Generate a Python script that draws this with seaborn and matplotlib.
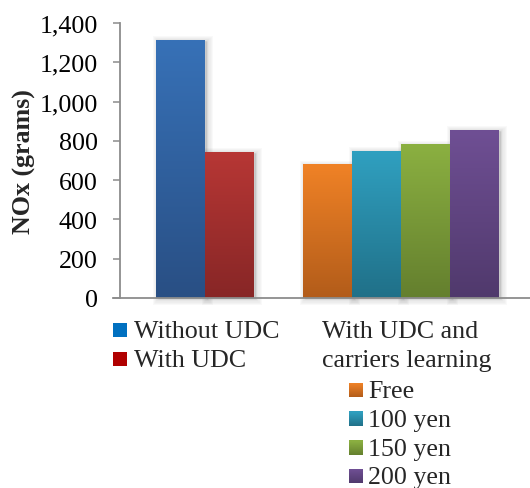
import numpy as np
import pandas as pd
import matplotlib
matplotlib.use("Agg")
import matplotlib.pyplot as plt
import matplotlib.transforms as mtransforms
import seaborn as sns
from matplotlib.colors import LinearSegmentedColormap
from matplotlib.patches import Rectangle
from matplotlib.ticker import FuncFormatter

# ---- data -------------------------------------------------------------
scenarios = ["Without UDC", "With UDC", "Free", "100 yen", "150 yen", "200 yen"]
nox_grams = [1313, 743, 679, 748, 779, 855]
group_title = "With UDC and\ncarriers learning"
y_label = "NOx (grams)"
y_ticks = [0, 200, 400, 600, 800, 1000, 1200, 1400]

# ---- style ------------------------------------------------------------
top_colors = ["#3771B7", "#B73735", "#F08226", "#30A0C0", "#8BB041", "#6F4F94"]
bottom_colors = ["#294F84", "#872626", "#B25C1A", "#207088", "#647F2E", "#50396C"]
solid_legend = ["#0070C0", "#B00000"]
slots = [0, 1, 3, 4, 5, 6]          # bar slots; an empty slot separates the groups

sns.set_style("white")
plt.rcParams["font.family"] = ["Liberation Serif", "DejaVu Serif"]
FS = 18.7

W, H = 530, 489
fig = plt.figure(figsize=(W / 100, H / 100), dpi=100)
ax = fig.add_axes([120 / W, 1 - 299 / H, (W - 120) / W, 275 / H])

df = pd.DataFrame({"scenario": scenarios, "nox": nox_grams, "slot": slots})
sns.barplot(data=df, x="slot", y="nox", hue="scenario", hue_order=scenarios,
            palette=top_colors, native_scale=True, width=1, dodge=False,
            legend=False, saturation=1, linewidth=0, ax=ax)

# vertical gradient fill and soft shadow for each bar
grad = np.linspace(0, 1, 256).reshape(-1, 1)
for p in list(ax.patches):
    x0, y0, w, h = p.get_x(), p.get_y(), p.get_width(), p.get_height()
    if h <= 0:
        continue
    i = slots.index(int(round(x0 + w / 2)))
    cmap = LinearSegmentedColormap.from_list("g", [bottom_colors[i], top_colors[i]])
    for k in range(1, 6):
        tr = mtransforms.offset_copy(ax.transData, fig=fig, x=1.5, y=-1.0, units="dots")
        sh = Rectangle((x0, y0), w, h, transform=tr, facecolor="black",
                       edgecolor="black", linewidth=k * 1.6, alpha=0.022,
                       zorder=1, clip_on=False)
        ax.add_patch(sh)
    ax.imshow(grad, extent=[x0, x0 + w, y0, y0 + h], origin="lower", cmap=cmap,
              aspect="auto", zorder=2, interpolation="bilinear")
    p.set_visible(False)

bar_px = 49.0
left = -0.5 - 36 / bar_px
ax.set_xlim(left, left + 410 / bar_px)
ax.set_ylim(0, 1400)
ax.set_yticks(y_ticks)
ax.yaxis.set_major_formatter(FuncFormatter(lambda v, _: f"{int(v):,}"))
ax.set_xticks([])
ax.set_xlabel("")
ax.set_ylabel(y_label, fontsize=FS, fontweight="bold", va="center")
ax.yaxis.set_label_coords((24 - 120) / 410, 0.5)

axis_grey = "#8C8C8C"
for s in ["top", "right"]:
    ax.spines[s].set_visible(False)
for s in ["left", "bottom"]:
    ax.spines[s].set_color(axis_grey)
    ax.spines[s].set_linewidth(1.3)
ax.tick_params(axis="y", length=5.2, width=1.1, color=axis_grey, pad=10.8,
               labelsize=FS, labelcolor="black", direction="out", left=True)
ax.spines["bottom"].set_bounds(left - 7.5 / bar_px, ax.get_xlim()[1])
ax.spines["bottom"].set_zorder(3)


# ---- legend -----------------------------------------------------------
def fx(px):
    return px / W


def fy(py):
    return 1 - py / H


def legend_box(x, y, i, gradient):
    size = 14
    if gradient:
        cmap = LinearSegmentedColormap.from_list("g", [bottom_colors[i], top_colors[i]])
        n = 14
        for k in range(n):
            fig.patches.append(Rectangle((fx(x), fy(y + size) + k * size / n / H),
                                         size / W, size / n / H + 0.3 / H,
                                         transform=fig.transFigure,
                                         facecolor=cmap((k + 0.5) / n), linewidth=0))
    else:
        fig.patches.append(Rectangle((fx(x), fy(y + size)), size / W, size / H,
                                     transform=fig.transFigure,
                                     facecolor=solid_legend[i], linewidth=0))


# first group
for i, base in zip([0, 1], [338, 367]):
    legend_box(113, base - 14.5, i, gradient=False)
    fig.text(fx(134), fy(base), scenarios[i], fontsize=FS, va="baseline", ha="left")

# second group with heading
for line, base in zip(group_title.split("\n"), [338, 367]):
    fig.text(fx(322), fy(base), line, fontsize=FS, va="baseline", ha="left")
for i, base in zip([2, 3, 4, 5], [398.5, 427, 456, 484.5]):
    legend_box(349, base - 14.5, i, gradient=True)
    fig.text(fx(368), fy(base), scenarios[i], fontsize=FS, va="baseline", ha="left")

fig.savefig("out.png", dpi=100)
